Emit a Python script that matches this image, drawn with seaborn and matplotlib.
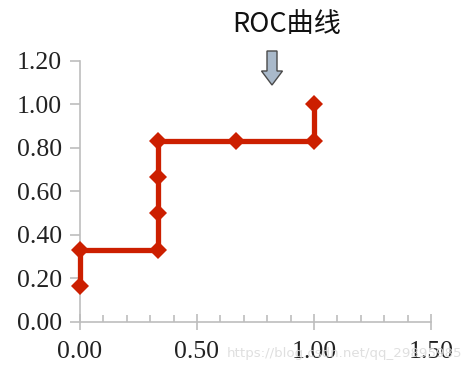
import matplotlib
matplotlib.use('Agg')
import matplotlib.pyplot as plt
import seaborn as sns
import pandas as pd
from matplotlib.patches import FancyArrow
from matplotlib.ticker import MultipleLocator, FormatStrFormatter

# ROC points (false positive rate, true positive rate)
fpr = [0.0, 0.0, 0.333, 0.333, 0.333, 0.333, 0.667, 1.0, 1.0]
tpr = [0.167, 0.333, 0.333, 0.5, 0.667, 0.833, 0.833, 0.833, 1.0]
title_text = 'ROC曲线'
watermark = 'https://blog.csdn.net/qq_29895985'

df = pd.DataFrame({'fpr': fpr, 'tpr': tpr})

sns.set_style('white')
plt.rcParams['font.family'] = ['Liberation Serif', 'DejaVu Serif']

fig = plt.figure(figsize=(4.72, 3.69), dpi=100)
ax = fig.add_axes([0.1695, 0.1274, 0.9131 - 0.1695, 0.8347 - 0.1274])

sns.lineplot(data=df, x='fpr', y='tpr', sort=False, estimator=None,
             color='#cc1f00', linewidth=3.8, marker='D', markersize=9.5,
             markeredgewidth=0, ax=ax, clip_on=False, zorder=5)

ax.set_xlim(0, 1.5)
ax.set_ylim(0, 1.2)
ax.set_xlabel('')
ax.set_ylabel('')

# axis styling
for side in ['top', 'right']:
    ax.spines[side].set_visible(False)
for side in ['left', 'bottom']:
    ax.spines[side].set_color('#bdbdbd')
    ax.spines[side].set_linewidth(1.2)

ax.xaxis.set_major_locator(MultipleLocator(0.5))
ax.xaxis.set_minor_locator(MultipleLocator(0.1))
ax.yaxis.set_major_locator(MultipleLocator(0.2))
ax.xaxis.set_major_formatter(FormatStrFormatter('%.2f'))
ax.yaxis.set_major_formatter(FormatStrFormatter('%.2f'))

ax.tick_params(axis='x', which='major', direction='inout', length=12, width=1.2,
               color='#bdbdbd', labelsize=18.5, pad=8, bottom=True)
ax.tick_params(axis='x', which='minor', direction='in', length=5, width=1.2,
               color='#bdbdbd', bottom=True)
ax.tick_params(axis='y', which='major', direction='out', length=7, width=1.2,
               color='#bdbdbd', labelsize=18.5, pad=6, left=True)
for lab in ax.get_xticklabels() + ax.get_yticklabels():
    lab.set_color('#222222')

# title with arrow
fig.text(287 / 472, 1 - 25 / 369, title_text, ha='center', va='center',
         fontsize=19.5, family=['Noto Sans CJK SC', 'DejaVu Sans'], color='#111111')
arrow = FancyArrow(272 / 472, 1 - 51 / 369, 0, -(34 / 369), width=10 / 472,
                   head_width=21 / 472, head_length=14 / 369,
                   length_includes_head=True, transform=fig.transFigure,
                   facecolor='#a9b9ca', edgecolor='#4a4a4a', linewidth=1)
fig.patches.append(arrow)

# watermark
fig.text(462 / 472, 1 - 353 / 369, watermark, ha='right', va='center',
         fontsize=9.6, family=['DejaVu Sans'], color='#dcdcdc', alpha=0.9)

fig.savefig('out.png', dpi=100)
